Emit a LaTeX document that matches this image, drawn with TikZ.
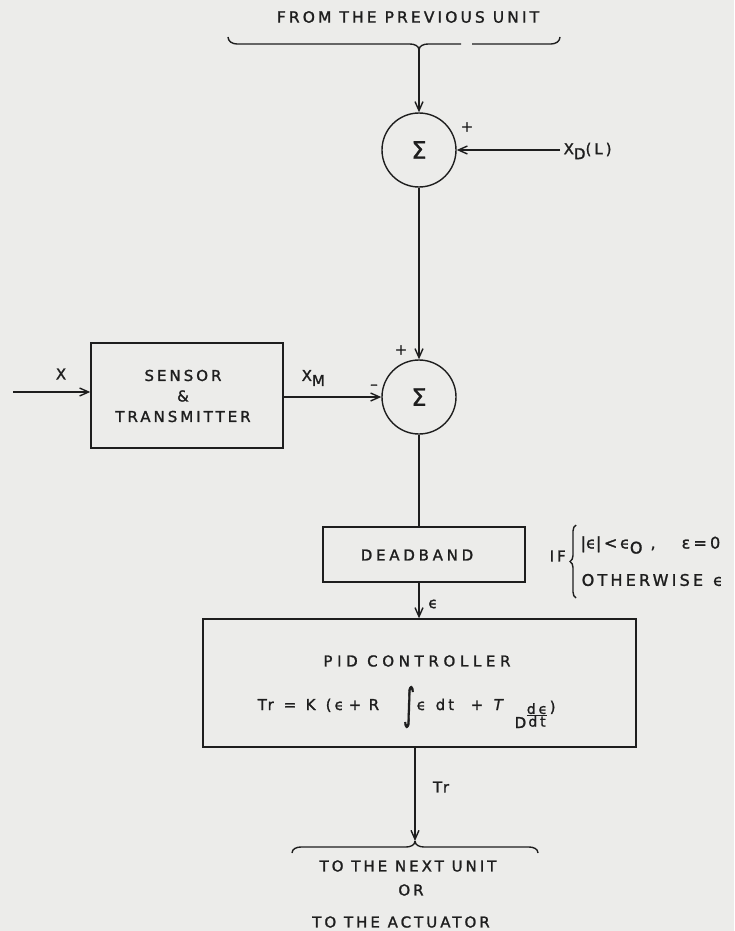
\documentclass[tikz,border=0pt]{standalone}
\usepackage{fontspec}
\usepackage{graphicx}
\setmainfont{DejaVu Sans}[LetterSpace=20,FakeBold=1.4]
\newfontfamily\dv{DejaVu Sans}[FakeBold=1.4]
\usetikzlibrary{arrows.meta,decorations.pathreplacing}
\definecolor{bgcol}{RGB}{236,236,234}
\definecolor{ink}{RGB}{30,30,30}
\begin{document}
\begin{tikzpicture}[x=1pt,y=-1pt, line width=1.4pt, draw=ink, text=ink,
  lbl/.style={font=\fontsize{15}{17}\selectfont, inner sep=0pt},
  tok/.style={font=\fontsize{15}{17}\selectfont, inner sep=0pt, anchor=base west},
  sumnode/.style={circle, draw, minimum size=74pt, inner sep=0pt, font=\fontsize{24}{26}\dv},
  blk/.style={draw, inner sep=0pt, align=center, font=\fontsize{15}{20.5}\selectfont},
  arr/.style={-{Straight Barb[length=9pt,width=8pt]}}]
\fill[bgcol] (0,0) rectangle (734,931);
\useasboundingbox (0,0) rectangle (734,931);

% top text and brace
\node[lbl, font=\fontsize{15.5}{17}\selectfont] (from) at (408,17) {FROM THE PREVIOUS UNIT};
\coordinate (tb) at (419,50);
\draw (228,37) to[out=-90,in=180] (237,44) -- (410,44) to[out=0,in=90] (tb);
\draw (tb) to[out=90,in=180] (428,44) -- (461,44);
\draw (472,44) -- (551,44) to[out=0,in=-90] (560,37);

% summing junctions
\node[sumnode] (s1) at (419,150) {Σ};
\node[sumnode] (s2) at (419,397) {Σ};

\draw[arr] (tb) -- (s1.north);
\coordinate (xd) at (560,150);
\draw[arr] (xd) -- (s1.east);
\node[lbl, anchor=west] (xdl) at (563,151) {X\raisebox{-5pt}{D}(L)};
\node[lbl] (p1) at (467,127) {+};

\draw[arr] (s1.south) -- (s2.north);
\node[lbl] (p2) at (401,350) {+};

% sensor
\node[blk, minimum width=192pt, minimum height=105pt] (sensor) at (187,395.5) {};
\node[blk, draw=none] (sensort) at (183,396) {SENSOR\\\&\\TRANSMITTER};
\coordinate (xin) at (13,392);
\draw[arr] (xin) -- (sensor.west |- xin);
\node[lbl] (xl) at (61,374) {X};
\draw[arr] (sensor.east |- s2) -- (s2.west);
\node[lbl, anchor=west] (xm) at (301,378) {X\raisebox{-5pt}{M}};
\node[lbl] (mn) at (374,387) {--};

% deadband
\node[blk, minimum width=202pt, minimum height=55pt] (dead) at (424,554.5) {};
\node[lbl, font=\fontsize{15}{17}\selectfont\addfontfeatures{LetterSpace=25}] (deadt) at (417,555) {DEADBAND};
\draw (s2.south) -- (s2.south |- dead.north);
\node[lbl, anchor=west] (ifl) at (549,556) {IF};
\draw[decorate, decoration={brace, amplitude=6pt}] (576,598) -- (576,525);
\node[lbl, anchor=west, font=\fontsize{16}{18}\selectfont] (c1) at (580,545) {{\dv|ϵ|}\,{\dv<}\,ϵ\raisebox{-5pt}{O}\hspace{8pt},\hspace{26pt}ε=0};
\node[lbl, anchor=west, font=\fontsize{16}{18}\selectfont] (c2) at (581,580) {OTHERWISE\hspace{10pt}ϵ};

% PID
\node[blk, minimum width=433pt, minimum height=128pt] (pid) at (419.5,683) {};
\node[lbl, font=\fontsize{15}{17}\selectfont\addfontfeatures{LetterSpace=31}] (pidt) at (417,661) {PID CONTROLLER};
\node[tok] (e1) at (257,710) {Tr};
\node[tok] (e2) at (283,710) {=};
\node[tok] (e3) at (305,710) {K};
\node[tok] (e4) at (325,710) {(ϵ};
\node[tok] (e5) at (348,710) {+};
\node[tok] (e6) at (368,710) {R};
\node[inner sep=0pt] (e7) at (409,707) {\resizebox*{12pt}{42pt}{\dv ∫}};
\node[tok] (e8) at (416,710) {ϵ};
\node[tok] (e9) at (435,710) {dt};
\node[tok] (e10) at (470,710) {+};
\node[tok] (e11) at (493,710) {\itshape T};
\node[tok] (e12) at (514,728) {D};
\node[inner sep=0pt] (e13) at (537,715) {$\frac{\hbox{\fontsize{14}{14}\selectfont dϵ}}{\hbox{\fontsize{14}{14}\selectfont dt}}$};
\node[tok] (e14) at (549,712) {)};
\draw[arr] (s2.south |- dead.south) -- (s2.south |- pid.north);
\node[lbl] (el) at (433,604) {ϵ};

% output
\coordinate (bb) at (415,841);
\draw[arr] (pid.south -| bb) -- (bb);
\node[lbl] (trl) at (441,787) {Tr};
\draw (292,853) to[out=90,in=180] (301,847) -- (406,847) to[out=0,in=-90] (bb);
\draw (bb) to[out=-90,in=180] (424,847) -- (529,847) to[out=0,in=90] (538,853);
\node[lbl] (to1) at (408,866) {TO THE NEXT UNIT};
\node[lbl] (or) at (411,890) {OR};
\node[lbl] (to2) at (401,922) {TO THE ACTUATOR};
\end{tikzpicture}
\end{document}
